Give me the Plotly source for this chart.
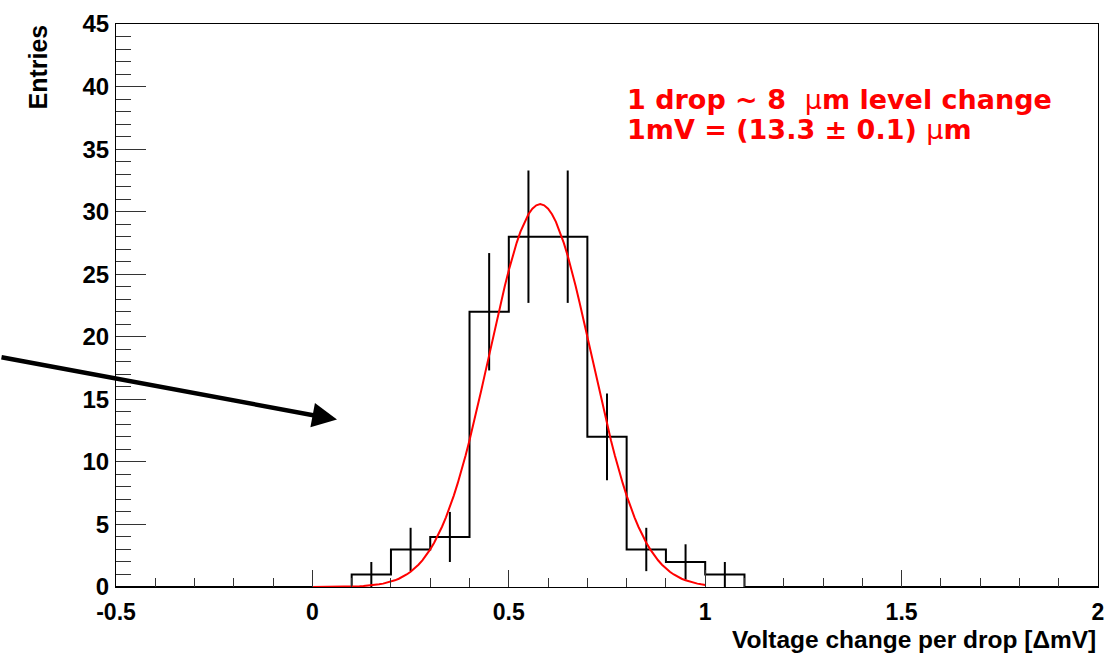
import numpy as np
import plotly.graph_objects as go

# ---------------- data ----------------
bin_low_edges = [round(-0.5 + 0.1 * i, 1) for i in range(25)]
bin_width = 0.1
counts = [0, 0, 0, 0, 0,    # -0.5 .. 0.0
          0, 1, 3, 4, 22,   # 0.0 .. 0.5
          28, 28, 12, 3, 2, # 0.5 .. 1.0
          1, 0, 0, 0, 0,    # 1.0 .. 1.5
          0, 0, 0, 0, 0]    # 1.5 .. 2.0

# Gaussian fit parameters
fit_constant = 30.6
fit_mean = 0.58
fit_sigma = 0.13
fit_range = [0.0, 1.0]

x_tick_vals = [-0.5, 0, 0.5, 1, 1.5, 2]
x_tick_text = ["-0.5", "0", "0.5", "1", "1.5", "2"]
y_tick_vals = [0, 5, 10, 15, 20, 25, 30, 35, 40, 45]

MU = '<span style="font-weight:normal">\u03bc</span>'
text_line1 = "1 drop ~ 8  " + MU + "m level change"
text_line2 = "1mV = (13.3 \u00b1 0.1) " + MU + "m"
x_title = "Voltage change per drop [\u0394mV]"
y_title = "Entries"

# ---------------- figure ----------------
W, H = 1106, 654
ML, MR, MT, MB = 116, 8, 24, 67
PW = W - ML - MR
PH = H - MT - MB

edges = bin_low_edges + [round(bin_low_edges[-1] + bin_width, 1)]
step_y = counts + [counts[-1]]

fig = go.Figure()

# histogram outline
fig.add_trace(go.Scatter(
    x=edges, y=step_y, mode="lines", line=dict(shape="hv", color="black", width=2),
    hoverinfo="skip", showlegend=False, cliponaxis=False))

# error bars
centers = [e + bin_width / 2 for e, c in zip(bin_low_edges, counts) if c > 0]
vals = [c for c in counts if c > 0]
errs = [float(np.sqrt(c)) for c in vals]
fig.add_trace(go.Scatter(
    x=centers, y=vals, mode="markers", marker=dict(size=1, color="black", opacity=0),
    error_y=dict(type="data", array=errs, visible=True, color="black", thickness=2, width=0),
    showlegend=False, hoverinfo="skip"))

# fit curve
fx = np.linspace(fit_range[0], fit_range[1], 101)
fy = fit_constant * np.exp(-0.5 * ((fx - fit_mean) / fit_sigma) ** 2)
fig.add_trace(go.Scatter(x=fx, y=fy, mode="lines", line=dict(color="#ff0000", width=2),
                         showlegend=False, hoverinfo="skip"))

xtickfont = dict(family="Liberation Sans, Arial, sans-serif", size=23, color="black", weight="bold")
ytickfont = dict(family="Liberation Sans, Arial, sans-serif", size=24, color="black", weight="bold")

fig.update_layout(
    width=W, height=H,
    margin=dict(l=ML, r=MR, t=MT, b=MB, pad=0),
    paper_bgcolor="white", plot_bgcolor="white",
    xaxis=dict(range=[-0.5, 2], showgrid=False, zeroline=False, automargin=False,
               showline=True, linecolor="black", linewidth=1, mirror=True,
               ticks="inside", ticklen=17, tickwidth=1, tickcolor="#333333",
               tickvals=x_tick_vals, ticktext=x_tick_text, tickfont=xtickfont,
               ticklabelstandoff=4,
               minor=dict(dtick=0.1, tick0=0, ticks="inside", ticklen=9, tickwidth=1, tickcolor="#333333")),
    yaxis=dict(range=[0, 45], showgrid=False, zeroline=False, automargin=False,
               showline=True, linecolor="black", linewidth=1, mirror=True,
               ticks="inside", ticklen=30, tickwidth=1, tickcolor="#333333",
               tickvals=y_tick_vals, tickfont=ytickfont, ticklabelstandoff=1,
               minor=dict(dtick=1, tick0=0, ticks="inside", ticklen=15, tickwidth=1, tickcolor="#333333")),
)

annotations = [
    dict(text=y_title, xref="paper", yref="paper",
         x=-(ML - 37) / PW, y=1.0 + 1 / PH, xanchor="center", yanchor="top", textangle=-90,
         showarrow=False, font=dict(family="Liberation Sans, Arial", size=25, color="black", weight="bold")),
    dict(text=x_title, xref="paper", yref="paper",
         x=1.0, y=-(639 - (H - MB)) / PH, xanchor="right", yanchor="middle",
         showarrow=False, font=dict(family="Liberation Sans, Arial", size=24.5, color="black", weight="bold")),
    dict(text=text_line1, xref="paper", yref="paper",
         x=(625 - ML) / PW, y=((H - MB) - 99) / PH, xanchor="left", yanchor="middle",
         showarrow=False, font=dict(family="DejaVu Sans", size=27, color="#ff0000", weight="bold")),
    dict(text=text_line2, xref="paper", yref="paper",
         x=(625 - ML) / PW, y=((H - MB) - 129) / PH, xanchor="left", yanchor="middle",
         showarrow=False, font=dict(family="DejaVu Sans", size=27, color="#ff0000", weight="bold")),
    # arrow
    dict(text="", x=0.0626, y=13.38, xref="x", yref="y", axref="pixel", ayref="pixel",
         ax=-337, ay=-62.6, showarrow=True, arrowhead=2, arrowsize=1.1, arrowwidth=4.5,
         arrowcolor="black", standoff=0),
]
fig.update_layout(annotations=annotations)

fig.write_html("out.html")
